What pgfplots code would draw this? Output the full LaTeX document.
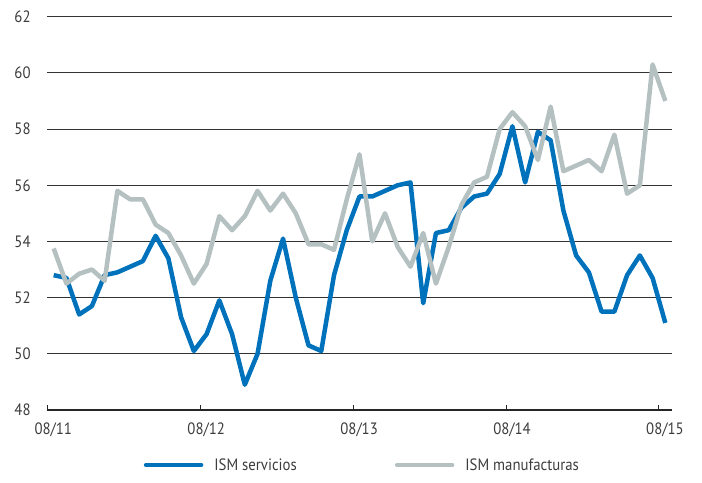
\documentclass[border=0pt]{standalone}
\usepackage{fontspec}
\setmainfont{PT Sans}[FakeStretch=0.9]
\usepackage{pgfplots}
\pgfplotsset{compat=1.18}
\definecolor{ismblue}{RGB}{0,114,188}
\definecolor{ismgray}{RGB}{181,192,193}
\definecolor{txt}{RGB}{60,60,60}

\pgfplotstableread{
x y
0.5 52.8
1.5 52.7
2.5 51.4
3.5 51.7
4.5 52.8
5.5 52.9
6.5 53.1
7.5 53.3
8.5 54.2
9.5 53.4
10.5 51.3
11.5 50.1
12.5 50.7
13.5 51.9
14.5 50.7
15.5 48.9
16.5 50.0
17.5 52.6
18.5 54.1
19.5 52.0
20.5 50.3
21.5 50.1
22.5 52.8
23.5 54.4
24.5 55.6
25.5 55.6
26.5 55.8
27.5 56.0
28.5 56.1
29.5 51.8
30.5 54.3
31.5 54.4
32.5 55.2
33.5 55.6
34.5 55.7
35.5 56.4
36.5 58.1
37.5 56.1
38.5 57.9
39.5 57.6
40.5 55.1
41.5 53.5
42.5 52.9
43.5 51.5
44.5 51.5
45.5 52.8
46.5 53.5
47.5 52.7
48.5 51.1
}\servicios

\pgfplotstableread{
x y
0.5 53.75
1.5 52.5
2.5 52.85
3.5 53.0
4.5 52.6
5.5 55.8
6.5 55.5
7.5 55.5
8.5 54.6
9.5 54.3
10.5 53.5
11.5 52.5
12.5 53.2
13.5 54.9
14.5 54.4
15.5 54.9
16.5 55.8
17.5 55.1
18.5 55.7
19.5 55.0
20.5 53.9
21.5 53.9
22.5 53.7
23.5 55.5
24.5 57.1
25.5 54.0
26.5 55.0
27.5 53.8
28.5 53.1
29.5 54.3
30.5 52.5
31.5 53.8
32.5 55.3
33.5 56.1
34.5 56.3
35.5 58.0
36.5 58.6
37.5 58.1
38.5 56.9
39.5 58.8
40.5 56.5
41.5 56.7
42.5 56.9
43.5 56.5
44.5 57.8
45.5 55.7
46.5 56.0
47.5 60.3
48.5 59.0
}\manufacturas

\begin{document}
\begin{tikzpicture}
\path[use as bounding box] (0,0) rectangle (702bp,483bp);
\begin{axis}[
  at={(47.3bp,73bp)}, anchor=south west,
  width=624.4bp, height=393.3bp, scale only axis,
  xmin=0, xmax=49, ymin=48, ymax=62,
  /pgf/number format/assume math mode=true,
  axis lines*=left,
  y axis line style={draw=none},
  x axis line style={line width=1.4bp, color=black!85},
  xtick={0,12,24,36,48},
  xticklabels={08/11,08/12,08/13,08/14,08/15},
  ytick={48,50,...,62},
  ymajorgrids,
  major grid style={line width=0.9bp, color=black!80},
  ytick style={draw=none},
  xtick style={line width=1bp, color=black!85},
  tick align=inside,
  major tick length=5bp,
  xtick pos=bottom,
  ticklabel style={font=\fontsize{16.5}{19}\selectfont, text=txt},
  yticklabel style={anchor=east, inner sep=0pt, xshift=-16.5bp},
  xticklabel style={anchor=north, inner sep=0pt, xshift=6bp, yshift=-13bp},
  legend style={at={(0.503,-0.14)}, anchor=center, draw=none, fill=none,
    legend columns=2, font=\fontsize{16.5}{19}\selectfont, text=txt,
    nodes={inner sep=0pt},
    /tikz/every odd column/.append style={column sep=11bp},
    /tikz/every even column/.append style={column sep=98bp}},
  legend cell align=left,
  legend image code/.code={\draw[#1, line width=4.5bp, line cap=round] (0bp,0bp) -- (55bp,0bp);},
]
\addplot[ismblue, line width=4.5bp, line join=round] table[x=x,y=y] {\servicios};
\addlegendentry{ISM servicios}
\addplot[ismgray, line width=4.5bp, line join=round] table[x=x,y=y] {\manufacturas};
\addlegendentry{ISM manufacturas}
\end{axis}
\end{tikzpicture}
\end{document}
